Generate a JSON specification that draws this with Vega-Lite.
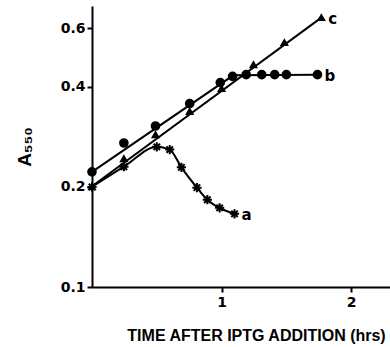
{
  "$schema": "https://vega.github.io/schema/vega-lite/v6.json",
  "width": 298,
  "height": 281,
  "autosize": {"type": "none"},
  "padding": {"left": 92, "top": 6, "right": 0, "bottom": 60},
  "background": "white",
  "config": {
    "view": {"stroke": null},
    "font": "Liberation Sans",
    "axis": {
      "domainColor": "black", "domainWidth": 2, "tickColor": "black", "tickWidth": 2,
      "tickSize": 5, "grid": false, "labelFont": "DejaVu Sans", "labelFontWeight": "bold",
      "labelFontSize": 14, "labelColor": "black", "titleColor": "black",
      "titleFont": "Liberation Sans", "titleFontWeight": "bold"
    }
  },
  "datasets": {
    "pts": [
      {"series": "a", "t": 0, "A": 0.2},
      {"series": "a", "t": 0.246, "A": 0.23},
      {"series": "a", "t": 0.5, "A": 0.264},
      {"series": "a", "t": 0.6, "A": 0.259},
      {"series": "a", "t": 0.69, "A": 0.229},
      {"series": "a", "t": 0.81, "A": 0.199},
      {"series": "a", "t": 0.89, "A": 0.183},
      {"series": "a", "t": 0.985, "A": 0.173},
      {"series": "a", "t": 1.1, "A": 0.166, "label": "a"},
      {"series": "b", "t": 0, "A": 0.222},
      {"series": "b", "t": 0.246, "A": 0.271},
      {"series": "b", "t": 0.49, "A": 0.305},
      {"series": "b", "t": 0.754, "A": 0.356},
      {"series": "b", "t": 0.99, "A": 0.412},
      {"series": "b", "t": 1.085, "A": 0.43},
      {"series": "b", "t": 1.19, "A": 0.435},
      {"series": "b", "t": 1.31, "A": 0.435},
      {"series": "b", "t": 1.41, "A": 0.435},
      {"series": "b", "t": 1.5, "A": 0.435},
      {"series": "b", "t": 1.74, "A": 0.435, "label": "b"},
      {"series": "c", "t": 0, "A": 0.2},
      {"series": "c", "t": 0.246, "A": 0.243},
      {"series": "c", "t": 0.49, "A": 0.287},
      {"series": "c", "t": 0.754, "A": 0.337},
      {"series": "c", "t": 1.0, "A": 0.395},
      {"series": "c", "t": 1.246, "A": 0.466},
      {"series": "c", "t": 1.485, "A": 0.543},
      {"series": "c", "t": 1.77, "A": 0.646, "label": "c"}
    ],
    "fits": [
      {"series": "b", "t": 0, "A": 0.222},
      {"series": "b", "t": 1.09, "A": 0.433},
      {"series": "b", "t": 1.74, "A": 0.435},
      {"series": "c", "t": 0, "A": 0.201},
      {"series": "c", "t": 1.77, "A": 0.646}
    ]
  },
  "encoding": {
    "x": {
      "field": "t", "type": "quantitative",
      "scale": {"domain": [0, 2.3], "nice": false, "zero": false},
      "axis": {"values": [1, 2], "format": "d", "title": "TIME AFTER IPTG ADDITION (hrs)",
               "titleFontSize": 16, "titlePadding": 18, "labelPadding": 3, "titleX": 164}
    },
    "y": {
      "field": "A", "type": "quantitative",
      "scale": {"type": "log", "domain": [0.1, 0.7], "nice": false},
      "axis": {"values": [0.1, 0.2, 0.4, 0.6], "format": ".1f", "title": "A₅₅₀",
               "titleFontSize": 19, "titlePadding": 26, "labelPadding": 2}
    }
  },
  "layer": [
    {
      "data": {"name": "fits"},
      "mark": {"type": "line", "color": "black", "strokeWidth": 2},
      "encoding": {"detail": {"field": "series"}}
    },
    {
      "data": {"name": "pts"},
      "transform": [{"filter": "datum.series === 'a'"}],
      "mark": {"type": "line", "color": "black", "strokeWidth": 2, "interpolate": "monotone"},
      "encoding": {}
    },
    {
      "data": {"name": "pts"},
      "mark": {"type": "point", "filled": true, "fill": "black", "stroke": "black", "strokeWidth": 2, "opacity": 1},
      "encoding": {
        "shape": {
          "field": "series", "type": "nominal", "legend": null,
          "scale": {"domain": ["a", "b", "c"], "range": ["M-1,0L1,0M0,-1L0,1M-0.7,-0.7L0.7,0.7M-0.7,0.7L0.7,-0.7", "circle", "triangle-up"]}
        },
        "size": {
          "field": "series", "type": "nominal", "legend": null,
          "scale": {"domain": ["a", "b", "c"], "range": [85, 32, 30]}
        }
      }
    },
    {
      "data": {"name": "pts"},
      "transform": [{"filter": "datum.label"}],
      "mark": {"type": "text", "align": "left", "dx": 7, "dy": 1, "fontSize": 15, "fontWeight": "bold", "color": "black", "font": "DejaVu Sans"},
      "encoding": {"text": {"field": "label"}}
    }
  ]
}
